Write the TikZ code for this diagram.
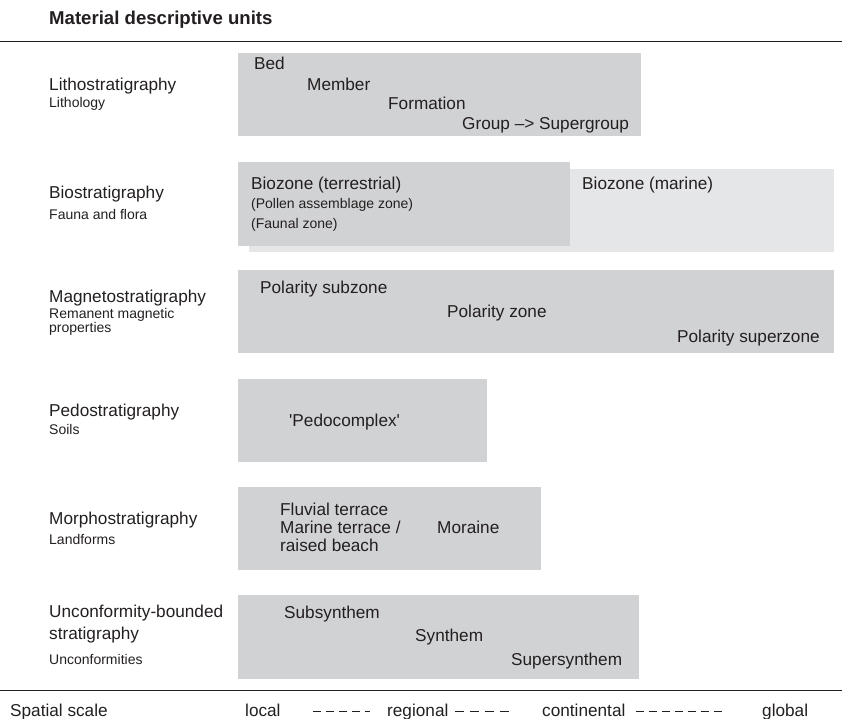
\documentclass[tikz,border=0pt]{standalone}
\usepackage{fontspec}
\setmainfont{Liberation Sans}
\usepackage{tikz}
\usetikzlibrary{positioning}
\definecolor{boxgray}{HTML}{D1D2D4}
\definecolor{marinegray}{HTML}{E5E6E8}
\definecolor{inkgray}{HTML}{231F20}
\tikzset{
	unitbox/.style={fill=boxgray},
	rowlbl/.style={anchor=base west, inner sep=0pt, text=inkgray, font=\fontsize{17.2}{20}\selectfont},
	sublbl/.style={anchor=base west, inner sep=0pt, text=inkgray, font=\fontsize{14}{16}\selectfont},
	scalegap/.style={draw=inkgray, line width=0.6pt, dash pattern=on 8pt off 5pt}
}

\begin{document}
\begin{tikzpicture}[x=1pt,y=-1pt]
		\useasboundingbox (0,0) rectangle (842,719);
		
		% heading and rules
		\node[rowlbl, font=\fontsize{18.6}{21}\bfseries] (title) at (49,25) {Material descriptive units};
		\draw[inkgray] (0,41) -- (842,41);
		\draw[inkgray] (0,690) -- (842,690);
		
		% lithostratigraphy
		\fill[unitbox] (238,53) rectangle (641,136);
		\node[rowlbl] (litho) at (49,91) {Lithostratigraphy};
		\node[sublbl] (lithology) at (49,108) {Lithology};
		\node[rowlbl] (bed) at (254,70) {Bed};
		\node[rowlbl] (member) at (307,91) {Member};
		\node[rowlbl] (formation) at (388,110) {Formation};
		\node[rowlbl] (group) at (462,130) {Group --> Supergroup};
		
		% biostratigraphy (marine box behind the terrestrial one)
		\fill[marinegray] (249,169) rectangle (834,252);
		\fill[unitbox] (238,162) rectangle (570,246);
		\node[rowlbl] (bio) at (49,199) {Biostratigraphy};
		\node[sublbl] (fauna) at (49,219) {Fauna and flora};
		\node[rowlbl] (terr) at (251,190) {Biozone (terrestrial)};
		\node[sublbl] (pollen) at (251,209) {(Pollen assemblage zone)};
		\node[sublbl] (faunal) at (251,229) {(Faunal zone)};
		\node[rowlbl] (marine) at (582,190) {Biozone (marine)};
		
		% magnetostratigraphy
		\fill[unitbox] (238,270) rectangle (834,353);
		\node[rowlbl] (magneto) at (49,302) {Magnetostratigraphy};
		\node[sublbl] (remanent) at (49,318) {Remanent magnetic};
		\node[sublbl] (props) at (49,332) {properties};
		\node[rowlbl] (subzone) at (260,293) {Polarity subzone};
		\node[rowlbl] (zone) at (447,317) {Polarity zone};
		\node[rowlbl] (superzone) at (677,342) {Polarity superzone};
		
		% pedostratigraphy
		\fill[unitbox] (238,379) rectangle (487,462);
		\node[rowlbl] (pedo) at (49,416) {Pedostratigraphy};
		\node[sublbl] (soils) at (49,434) {Soils};
		\node[rowlbl] (pedocomplex) at (289,426) {\textquotesingle Pedocomplex\textquotesingle};
		
		% morphostratigraphy
		\fill[unitbox] (238,487) rectangle (541,570);
		\node[rowlbl] (morpho) at (49,524) {Morphostratigraphy};
		\node[sublbl] (landforms) at (49,544) {Landforms};
		\node[rowlbl] (fluvial) at (280,515) {Fluvial terrace};
		\node[rowlbl] (marterr) at (280,533) {Marine terrace /};
		\node[rowlbl] (raised) at (280,551) {raised beach};
		\node[rowlbl] (moraine) at (437,533) {Moraine};
		
		% unconformity-bounded stratigraphy
		\fill[unitbox] (238,595) rectangle (639,679);
		\node[rowlbl] (unconf) at (49,617) {Unconformity-bounded};
		\node[rowlbl] (strat) at (49,639) {stratigraphy};
		\node[sublbl] (unconfs) at (49,664) {Unconformities};
		\node[rowlbl] (subsyn) at (284,618) {Subsynthem};
		\node[rowlbl] (synthem) at (415,641) {Synthem};
		\node[rowlbl] (supersyn) at (511,665) {Supersynthem};
		
		% spatial scale
		\node[rowlbl] (spatial) at (10,716) {Spatial scale};
		\node[rowlbl] (local) at (245,716) {local};
		\node[rowlbl] (regional) at (387,716) {regional};
		\node[rowlbl] (continental) at (542,716) {continental};
		\node[rowlbl] (global) at (762,716) {global};
		\draw[scalegap, shorten <=32pt, shorten >=17pt] ([yshift=5pt]local.base east) -- ([yshift=5pt]regional.base west);
		\draw[scalegap, dash pattern=on 9pt off 6pt, shorten <=6pt, shorten >=29pt] ([yshift=5pt]regional.base east) -- ([yshift=5pt]continental.base west);
		\draw[scalegap, shorten <=10pt, shorten >=40pt] ([yshift=5pt]continental.base east) -- ([yshift=5pt]global.base west);
	\end{tikzpicture}
\end{document}
